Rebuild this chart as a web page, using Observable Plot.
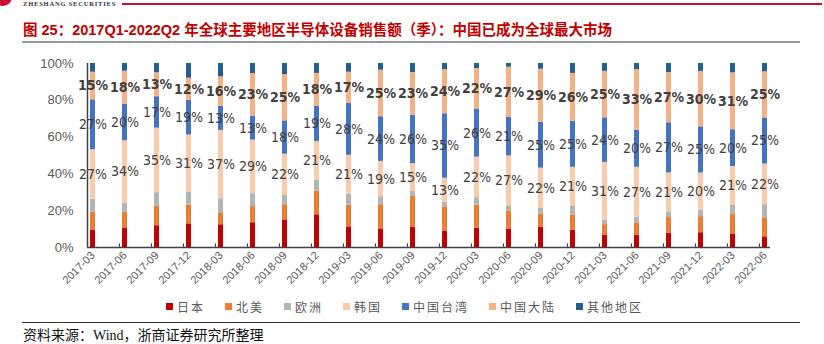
<!DOCTYPE html>
<html><head><meta charset="utf-8">
<script src="https://cdn.jsdelivr.net/npm/d3@7"></script>
<script src="https://cdn.jsdelivr.net/npm/@observablehq/plot@0.6"></script>
<style>
body{margin:0;background:#fff;}
#wrap{position:relative;width:824px;height:344px;overflow:hidden;font-family:"Liberation Sans",Arial,sans-serif;background:#fff;}
#logo{position:absolute;left:-6px;top:-12px;width:18px;height:18px;border-radius:50%;background:#c8102e;}
#brand{position:absolute;left:23px;top:0px;font:bold 6.5px "Liberation Serif",serif;color:#333;letter-spacing:0.8px;line-height:7px;}
#redline{position:absolute;left:122px;top:3px;width:700px;height:2px;background:#c8102e;}
#title{position:absolute;left:23px;top:18px;font-family:"Liberation Sans","Noto Sans CJK SC",sans-serif;font-weight:bold;font-size:14.5px;color:#c00000;white-space:nowrap;}
#grayline{position:absolute;left:22px;top:41px;width:778px;height:2px;background:#999;}
#chart{position:absolute;left:0;top:50px;}
#legend{position:absolute;left:166px;top:298px;display:flex;align-items:center;font-family:"Noto Sans CJK SC",sans-serif;font-size:12px;color:#595959;letter-spacing:2px;white-space:nowrap;}
#legend .it{display:flex;align-items:center;margin-right:20px;}
#legend .sw{width:7px;height:7px;margin-right:4px;}
#footline{position:absolute;left:22px;top:322px;width:778px;height:1px;background:#333;}
#source{position:absolute;left:23px;top:324px;font-family:"Liberation Serif","Noto Sans CJK SC",serif;font-size:14px;color:#111;white-space:nowrap;}
</style></head>
<body><div id="wrap">
<div id="logo"></div>
<div id="brand">ZHESHANG SECURITIES</div>
<div id="redline"></div>
<div id="title">图 25：2017Q1-2022Q2 年全球主要地区半导体设备销售额（季）：中国已成为全球最大市场</div>
<div id="grayline"></div>
<div id="chart"></div>
<div id="legend"></div>
<div id="footline"></div>
<div id="source">资料来源：Wind，浙商证券研究所整理</div>
</div>
<script>
const quarters = ["2017-03","2017-06","2017-09","2017-12","2018-03","2018-06","2018-09","2018-12","2019-03","2019-06","2019-09","2019-12","2020-03","2020-06","2020-09","2020-12","2021-03","2021-06","2021-09","2021-12","2022-03","2022-06"];
const seriesNames = ["日本","北美","欧洲","韩国","中国台湾","中国大陆","其他地区"];
const seriesColors = ["#c00000","#ed7d31","#b4b4b4","#f8cbad","#4472c4","#f4b183","#255e91"];
const japan = [9.4,10.7,11.8,12.9,12.3,13.4,14.9,17.8,11.2,10,11,8.9,10.5,10,11,9.4,6.7,6.7,7.6,8,7.4,5.8];
const northAmerica = [9.8,8.7,10.7,10.3,6.5,8.7,8.2,12.9,11.8,13,16.8,13.2,12.5,9.8,7.2,8.3,5.6,6.7,8.5,8.7,10.9,10.3];
const europe = [6.9,4.9,7.2,7.1,7.6,7,5.3,6,6,4.3,2.4,2.5,4,2.7,3.1,4.9,2.5,3.1,3.1,3.6,4.9,7.1];
const korea = [27,34,35,31,37,29,22,21,21,19,15,13,22,27,22,21,31,27,21,20,21,22];
const taiwan = [27,20,17,19,13,13,18,19,28,24,26,35,26,21,25,25,24,20,27,25,20,25];
const mainland = [15,18,13,12,16,23,25,18,17,25,23,24,22,27,29,26,25,33,27,30,31,25];
const others = [4.7,4.2,5,8,7.2,5.4,6,5.4,4.7,3.6,4.9,3.3,2.7,2,3.1,5.4,4.2,3.3,4.9,4.3,5.1,4.5];
const yTicks = [0,0.2,0.4,0.6,0.8,1];

const seriesValues = [japan,northAmerica,europe,korea,taiwan,mainland,others];
const labeled = new Set(["韩国","中国台湾"]);
const rows = [];
quarters.forEach((q,i)=>{
  seriesNames.forEach((s,j)=>rows.push({q, s, v: seriesValues[j][i]}));
});
const stackOpts = (extra) => Plot.stackY({offset:"normalize", x:"q", y:"v", z:"s", ...extra});

const chart = Plot.plot({
  width: 824, height: 245,
  marginLeft: 87, marginRight: 54, marginTop: 13, marginBottom: 48,
  x: {domain: quarters, paddingInner: 0.85, paddingOuter: 0.09, label: null},
  y: {domain: [0,1], label: null},
  color: {domain: seriesNames, range: seriesColors},
  style: {fontFamily: '"Liberation Sans", Arial, sans-serif', background: "transparent", overflow: "visible"},
  marks: [
    Plot.barY(rows, stackOpts({fill: "s"})),
    Plot.text(rows, stackOpts({text: d => labeled.has(d.s) ? d.v + "%" : null, fontFamily: '"Liberation Sans Narrow","DejaVu Sans Condensed",sans-serif', fontSize: 14, fill: "#404040"})),
    Plot.text(rows, stackOpts({text: d => d.s === "中国大陆" ? d.v + "%" : null, fontFamily: '"Liberation Sans Narrow","DejaVu Sans Condensed",sans-serif', fontSize: 14, fontWeight: "bold", fill: "#404040"})),
    Plot.ruleY([0], {stroke: "#404040", strokeWidth: 1.5}),
    Plot.ruleX([quarters[0]], {dx: -5.5, y1: 0, y2: 1, stroke: "#404040", strokeWidth: 1.5}),
    Plot.ruleX(quarters, {x: d => d, dx: -5.5, y1: 0, y2: 0.02, stroke: "#404040", strokeWidth: 1}),
    Plot.axisY({ticks: yTicks, tickFormat: d => Math.round(d*100) + "%", tickSize: 0, tickPadding: 14, fontSize: 13, fill: "#595959"}),
    Plot.axisX({tickRotate: -45, tickSize: 0, tickPadding: 6, fontSize: 11, fill: "#595959"})
  ]
});
document.getElementById("chart").appendChild(chart);

const legend = document.getElementById("legend");
seriesNames.forEach((s,j)=>{
  const it = document.createElement("div"); it.className = "it";
  const sw = document.createElement("div"); sw.className = "sw"; sw.style.background = seriesColors[j];
  const tx = document.createElement("span"); tx.textContent = s;
  it.appendChild(sw); it.appendChild(tx); legend.appendChild(it);
});
</script>
</body></html>
